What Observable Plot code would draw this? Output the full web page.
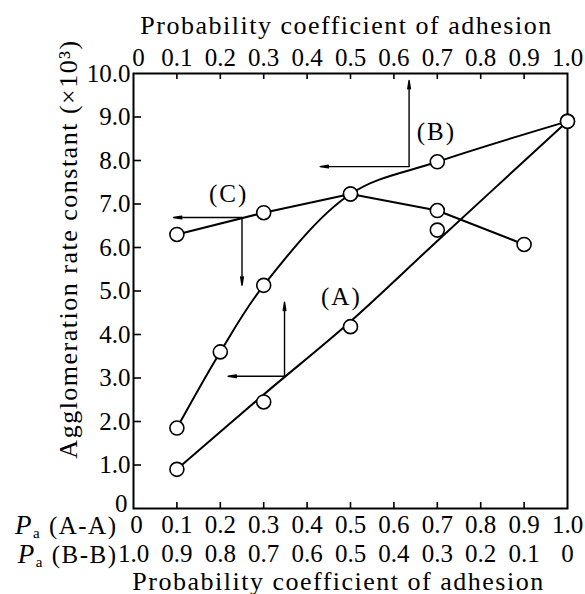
<!DOCTYPE html>
<html>
<head>
<meta charset="utf-8">
<script src="https://cdn.jsdelivr.net/npm/d3@7"></script>
<script src="https://cdn.jsdelivr.net/npm/@observablehq/plot@0.6"></script>
<style>
  html, body { margin: 0; padding: 0; background: white; }
  svg text { font-family: "Liberation Serif", "DejaVu Serif", serif; }
</style>
</head>
<body>
<div id="chart"></div>
<script>
// ---- data ----
const xTicks = [0, 0.1, 0.2, 0.3, 0.4, 0.5, 0.6, 0.7, 0.8, 0.9, 1.0];
const topTickLabels = ["0", "0.1", "0.2", "0.3", "0.4", "0.5", "0.6", "0.7", "0.8", "0.9", "1.0"];
const rowALabels = ["0", "0.1", "0.2", "0.3", "0.4", "0.5", "0.6", "0.7", "0.8", "0.9", "1.0"];
const rowBLabels = ["1.0", "0.9", "0.8", "0.7", "0.6", "0.5", "0.4", "0.3", "0.2", "0.1", "0"];
const yTickValues = [1, 2, 3, 4, 5, 6, 7, 8, 9, 10];
const yTickLabels = ["1.0", "2.0", "3.0", "4.0", "5.0", "6.0", "7.0", "8.0", "9.0", "10.0"];
const innerTicksX = [0.1, 0.2, 0.3, 0.4, 0.5, 0.6, 0.7, 0.8, 0.9];
const innerTicksY = [1, 2, 3, 4, 5, 6, 7, 8, 9];

// series (A): measured points and drawn fit line
const aX = [0.1, 0.3, 0.5, 0.7, 1.0];
const aY = [0.9, 2.45, 4.18, 6.4, 8.9];
const aFitX = [0.1, 0.3, 0.5, 0.7, 1.0];
const aFitY = [0.9, 2.62, 4.3, 6.15, 8.9];
// series (B)
const bX = [0.1, 0.2, 0.3, 0.5, 0.7, 1.0];
const bY = [1.85, 3.6, 5.13, 7.23, 7.97, 8.9];
// series (C)
const cX = [0.1, 0.3, 0.5, 0.7, 0.9];
const cY = [6.3, 6.8, 7.23, 6.85, 6.07];

// reading arrows: start (on curve) -> end
const arrX1 = [0.25, 0.25, 0.635, 0.635, 0.348, 0.348];
const arrY1 = [6.69, 6.69, 7.86, 7.86, 3.04, 3.04];
const arrX2 = [0.092, 0.25, 0.43, 0.635, 0.218, 0.348];
const arrY2 = [6.69, 5.13, 7.86, 9.84, 3.04, 4.74];

// series labels
const seriesNames = ["(A)", "(B)", "(C)"];
const seriesLabelX = [0.479, 0.698, 0.219];
const seriesLabelY = [4.86, 8.65, 7.23];

const topTitle = "Probability coefficient of adhesion";
const bottomTitle = "Probability coefficient of adhesion";
const yTitle = "Agglomeration rate constant (×10³)";
const rowNames = ["Pa (A-A)", "Pa (B-B)"];

// ---- build tables ----
const fitA = aFitX.map((x, i) => ({x, y: aFitY[i]}));
const ptsB = bX.map((x, i) => ({x, y: bY[i]}));
const ptsC = cX.map((x, i) => ({x, y: cY[i]}));
const dots = [
  ...aX.map((x, i) => ({x, y: aY[i]})),
  ...ptsB,
  ...ptsC
];
const arrows = arrX1.map((x1, i) => ({x1, y1: arrY1[i], x2: arrX2[i], y2: arrY2[i]}));
const labels = seriesNames.map((t, i) => ({t, x: seriesLabelX[i], y: seriesLabelY[i]}));

const FONT = "Liberation Serif";
const T = {fontFamily: FONT};

const chart = Plot.plot({
  width: 585,
  height: 594,
  marginLeft: 133,
  marginRight: 18,
  marginTop: 73,
  marginBottom: 86,
  style: {fontFamily: FONT, fontSize: "25px", background: "white", color: "black"},
  x: {domain: [0, 1]},
  y: {domain: [0, 10]},
  marks: [
    // inward ticks
    Plot.tickY(innerTicksY, {y: d => d, insetRight: 434 - 8, strokeWidth: 1.6}),
    Plot.tickX(innerTicksX, {x: d => d, insetTop: 435 - 6, strokeWidth: 1.6}),
    Plot.tickX(innerTicksX, {x: d => d, insetBottom: 435 - 6, strokeWidth: 1.6}),
    Plot.frame({stroke: "black", strokeWidth: 2}),
    // axes labels
    Plot.axisY(yTickValues, {...T, anchor: "left", tickSize: 0, tickPadding: 3, tickFormat: d => yTickLabels[d - 1], label: null}),
    Plot.axisY([0], {...T, anchor: "left", tickSize: 0, tickPadding: 6, dy: -5, tickFormat: () => "0", label: null}),
    Plot.axisX(xTicks.slice(1), {...T, anchor: "top", tickSize: 0, tickPadding: 8, tickFormat: d => topTickLabels[Math.round(d * 10)], label: null}),
    Plot.axisX([0], {...T, anchor: "top", tickSize: 0, tickPadding: 8, dx: 5, tickFormat: () => topTickLabels[0], label: null}),
    Plot.axisX(xTicks.slice(1), {...T, anchor: "bottom", tickSize: 0, tickPadding: 7, tickFormat: d => rowALabels[Math.round(d * 10)], label: null}),
    Plot.axisX([0], {...T, anchor: "bottom", tickSize: 0, tickPadding: 7, dx: 3, tickFormat: () => rowALabels[0], label: null}),
    Plot.axisX(xTicks, {...T, anchor: "bottom", tickSize: 0, tickPadding: 36, tickFormat: d => rowBLabels[Math.round(d * 10)], label: null}),
    // titles
    Plot.text([topTitle], {...T, frameAnchor: "top", textAnchor: "middle", lineAnchor: "bottom", dy: -40, dx: -4, fontSize: 26}),
    Plot.text([bottomTitle], {...T, frameAnchor: "bottom", textAnchor: "middle", lineAnchor: "bottom", dy: 81, dx: -12, fontSize: 26}),
    Plot.text([yTitle], {...T, frameAnchor: "left", textAnchor: "middle", rotate: -90, dx: -65, dy: -42, fontSize: 26}),
    Plot.text([rowNames[0]], {...T, frameAnchor: "bottom-left", textAnchor: "end", lineAnchor: "bottom", dx: -16, dy: 25}),
    Plot.text([rowNames[1]], {...T, frameAnchor: "bottom-left", textAnchor: "end", lineAnchor: "bottom", dx: -16, dy: 54}),
    // data lines
    Plot.line(fitA, {x: "x", y: "y", curve: "catmull-rom", stroke: "black", strokeWidth: 2}),
    Plot.line(ptsB, {x: "x", y: "y", curve: "catmull-rom", stroke: "black", strokeWidth: 2}),
    Plot.line(ptsC, {x: "x", y: "y", stroke: "black", strokeWidth: 2}),
    // reading arrows
    Plot.arrow(arrows, {x1: "x1", y1: "y1", x2: "x2", y2: "y2", stroke: "black", strokeWidth: 1.4, headLength: 9, headAngle: 18}),
    // points
    Plot.dot(dots, {x: "x", y: "y", r: 7, fill: "white", stroke: "black", strokeWidth: 1.6}),
    // series labels
    Plot.text(labels, {...T, x: "x", y: "y", text: "t", fontSize: 25})
  ]
});

document.getElementById("chart").appendChild(chart);

// typographic touches: letter spacing on titles, italic P with subscript a
const svg = d3.select(chart);
const byText = list => svg.selectAll("text").filter(function () { return list.includes(this.textContent); });
byText([topTitle, bottomTitle, yTitle]).attr("letter-spacing", "1.5px");
byText(seriesNames).attr("letter-spacing", "2px");
byText(rowNames).each(function () {
  const t = d3.select(this);
  const s = t.text();
  t.text(null).attr("letter-spacing", "1.5px");
  t.append("tspan").attr("font-style", "italic").attr("font-size", "27px").text(s[0]);
  t.append("tspan").attr("font-size", "15px").attr("dy", "4").text(s[1]);
  t.append("tspan").attr("dy", "-4").text(s.slice(2));
});
</script>
</body>
</html>
